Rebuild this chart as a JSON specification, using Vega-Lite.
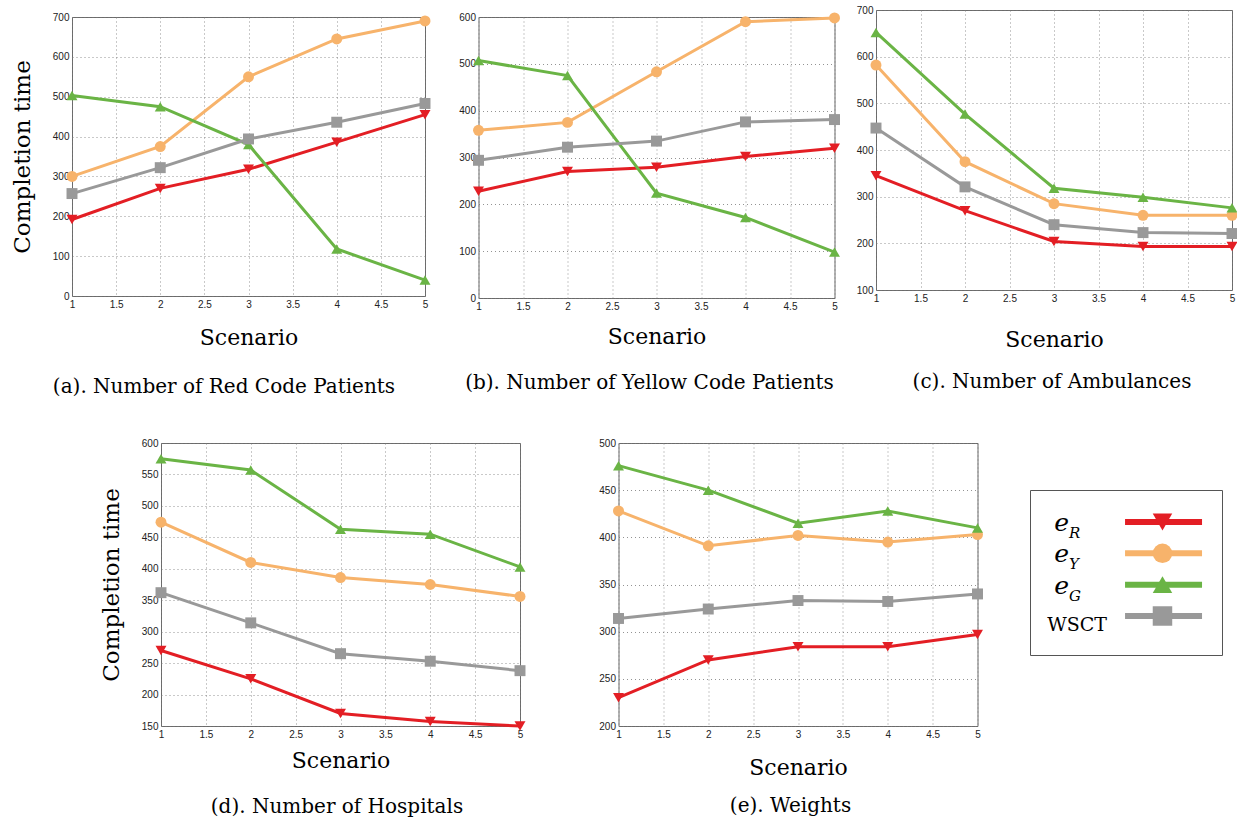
{
  "$schema": "https://vega.github.io/schema/vega-lite/v6.json",
  "padding": {"left": 10, "top": 4, "right": 0, "bottom": 0},
  "background": "white",
  "datasets": {
    "main": [
      {"panel": "a", "scenario": 1, "series": "eR", "value": 192},
      {"panel": "a", "scenario": 2, "series": "eR", "value": 270},
      {"panel": "a", "scenario": 3, "series": "eR", "value": 318},
      {"panel": "a", "scenario": 4, "series": "eR", "value": 386},
      {"panel": "a", "scenario": 5, "series": "eR", "value": 455},
      {"panel": "a", "scenario": 1, "series": "eY", "value": 300},
      {"panel": "a", "scenario": 2, "series": "eY", "value": 375},
      {"panel": "a", "scenario": 3, "series": "eY", "value": 550},
      {"panel": "a", "scenario": 4, "series": "eY", "value": 645},
      {"panel": "a", "scenario": 5, "series": "eY", "value": 690},
      {"panel": "a", "scenario": 1, "series": "eG", "value": 503},
      {"panel": "a", "scenario": 2, "series": "eG", "value": 475},
      {"panel": "a", "scenario": 3, "series": "eG", "value": 380},
      {"panel": "a", "scenario": 4, "series": "eG", "value": 118},
      {"panel": "a", "scenario": 5, "series": "eG", "value": 40},
      {"panel": "a", "scenario": 1, "series": "WSCT", "value": 257},
      {"panel": "a", "scenario": 2, "series": "WSCT", "value": 322},
      {"panel": "a", "scenario": 3, "series": "WSCT", "value": 394},
      {"panel": "a", "scenario": 4, "series": "WSCT", "value": 436},
      {"panel": "a", "scenario": 5, "series": "WSCT", "value": 483},
      {"panel": "b", "scenario": 1, "series": "eR", "value": 228},
      {"panel": "b", "scenario": 2, "series": "eR", "value": 270},
      {"panel": "b", "scenario": 3, "series": "eR", "value": 279},
      {"panel": "b", "scenario": 4, "series": "eR", "value": 302},
      {"panel": "b", "scenario": 5, "series": "eR", "value": 320},
      {"panel": "b", "scenario": 1, "series": "eY", "value": 358},
      {"panel": "b", "scenario": 2, "series": "eY", "value": 375},
      {"panel": "b", "scenario": 3, "series": "eY", "value": 483},
      {"panel": "b", "scenario": 4, "series": "eY", "value": 590},
      {"panel": "b", "scenario": 5, "series": "eY", "value": 598},
      {"panel": "b", "scenario": 1, "series": "eG", "value": 507},
      {"panel": "b", "scenario": 2, "series": "eG", "value": 475},
      {"panel": "b", "scenario": 3, "series": "eG", "value": 224},
      {"panel": "b", "scenario": 4, "series": "eG", "value": 172},
      {"panel": "b", "scenario": 5, "series": "eG", "value": 98},
      {"panel": "b", "scenario": 1, "series": "WSCT", "value": 294},
      {"panel": "b", "scenario": 2, "series": "WSCT", "value": 322},
      {"panel": "b", "scenario": 3, "series": "WSCT", "value": 335},
      {"panel": "b", "scenario": 4, "series": "WSCT", "value": 376},
      {"panel": "b", "scenario": 5, "series": "WSCT", "value": 381},
      {"panel": "c", "scenario": 1, "series": "eR", "value": 345},
      {"panel": "c", "scenario": 2, "series": "eR", "value": 270},
      {"panel": "c", "scenario": 3, "series": "eR", "value": 204},
      {"panel": "c", "scenario": 4, "series": "eR", "value": 193},
      {"panel": "c", "scenario": 5, "series": "eR", "value": 193},
      {"panel": "c", "scenario": 1, "series": "eY", "value": 582},
      {"panel": "c", "scenario": 2, "series": "eY", "value": 375},
      {"panel": "c", "scenario": 3, "series": "eY", "value": 285},
      {"panel": "c", "scenario": 4, "series": "eY", "value": 260},
      {"panel": "c", "scenario": 5, "series": "eY", "value": 260},
      {"panel": "c", "scenario": 1, "series": "eG", "value": 652},
      {"panel": "c", "scenario": 2, "series": "eG", "value": 477},
      {"panel": "c", "scenario": 3, "series": "eG", "value": 318},
      {"panel": "c", "scenario": 4, "series": "eG", "value": 299},
      {"panel": "c", "scenario": 5, "series": "eG", "value": 276},
      {"panel": "c", "scenario": 1, "series": "WSCT", "value": 447},
      {"panel": "c", "scenario": 2, "series": "WSCT", "value": 321},
      {"panel": "c", "scenario": 3, "series": "WSCT", "value": 240},
      {"panel": "c", "scenario": 4, "series": "WSCT", "value": 223},
      {"panel": "c", "scenario": 5, "series": "WSCT", "value": 221},
      {"panel": "d", "scenario": 1, "series": "eR", "value": 270},
      {"panel": "d", "scenario": 2, "series": "eR", "value": 225},
      {"panel": "d", "scenario": 3, "series": "eR", "value": 170},
      {"panel": "d", "scenario": 4, "series": "eR", "value": 157},
      {"panel": "d", "scenario": 5, "series": "eR", "value": 150},
      {"panel": "d", "scenario": 1, "series": "eY", "value": 474},
      {"panel": "d", "scenario": 2, "series": "eY", "value": 410},
      {"panel": "d", "scenario": 3, "series": "eY", "value": 386},
      {"panel": "d", "scenario": 4, "series": "eY", "value": 375},
      {"panel": "d", "scenario": 5, "series": "eY", "value": 356},
      {"panel": "d", "scenario": 1, "series": "eG", "value": 575},
      {"panel": "d", "scenario": 2, "series": "eG", "value": 557},
      {"panel": "d", "scenario": 3, "series": "eG", "value": 463},
      {"panel": "d", "scenario": 4, "series": "eG", "value": 455},
      {"panel": "d", "scenario": 5, "series": "eG", "value": 403},
      {"panel": "d", "scenario": 1, "series": "WSCT", "value": 362},
      {"panel": "d", "scenario": 2, "series": "WSCT", "value": 314},
      {"panel": "d", "scenario": 3, "series": "WSCT", "value": 265},
      {"panel": "d", "scenario": 4, "series": "WSCT", "value": 253},
      {"panel": "d", "scenario": 5, "series": "WSCT", "value": 238},
      {"panel": "e", "scenario": 1, "series": "eR", "value": 230},
      {"panel": "e", "scenario": 2, "series": "eR", "value": 270},
      {"panel": "e", "scenario": 3, "series": "eR", "value": 284},
      {"panel": "e", "scenario": 4, "series": "eR", "value": 284},
      {"panel": "e", "scenario": 5, "series": "eR", "value": 297},
      {"panel": "e", "scenario": 1, "series": "eY", "value": 428},
      {"panel": "e", "scenario": 2, "series": "eY", "value": 391},
      {"panel": "e", "scenario": 3, "series": "eY", "value": 402},
      {"panel": "e", "scenario": 4, "series": "eY", "value": 395},
      {"panel": "e", "scenario": 5, "series": "eY", "value": 403},
      {"panel": "e", "scenario": 1, "series": "eG", "value": 476},
      {"panel": "e", "scenario": 2, "series": "eG", "value": 450},
      {"panel": "e", "scenario": 3, "series": "eG", "value": 415},
      {"panel": "e", "scenario": 4, "series": "eG", "value": 428},
      {"panel": "e", "scenario": 5, "series": "eG", "value": 410},
      {"panel": "e", "scenario": 1, "series": "WSCT", "value": 314},
      {"panel": "e", "scenario": 2, "series": "WSCT", "value": 324},
      {"panel": "e", "scenario": 3, "series": "WSCT", "value": 333},
      {"panel": "e", "scenario": 4, "series": "WSCT", "value": 332},
      {"panel": "e", "scenario": 5, "series": "WSCT", "value": 340}
    ],
    "legend": [
      {"series": "eR", "main": "e", "sub": "R"},
      {"series": "eY", "main": "e", "sub": "Y"},
      {"series": "eG", "main": "e", "sub": "G"},
      {"series": "WSCT", "main": "WSCT", "sub": ""}
    ]
  },
  "vconcat": [
    {
      "hconcat": [
        {
          "vconcat": [
            {"width": 353, "height": 0.01, "data": {"values": []}, "mark": {"type": "point", "opacity": 0}, "view": {"stroke": null}},
            {
              "width": 353, "height": 279,
              "title": {"text": "(a). Number of Red Code Patients", "orient": "bottom", "offset": 28.6, "frame": "group", "dx": -24.5},
              "data": {"name": "main"},
              "transform": [{"filter": "datum.panel == 'a'"}],
              "encoding": {
                "x": {"field": "scenario", "type": "quantitative", "scale": {"domain": [1, 5], "nice": false, "zero": false}, "axis": {"title": "Scenario", "values": [1, 1.5, 2, 2.5, 3, 3.5, 4, 4.5, 5], "format": "~g", "titlePadding": 18}},
                "y": {"field": "value", "type": "quantitative", "scale": {"domain": [0, 700], "nice": false, "zero": false}, "axis": {"title": "Completion time", "values": [0, 100, 200, 300, 400, 500, 600, 700], "titlePadding": 18}},
                "color": {"field": "series", "type": "nominal", "scale": {"domain": ["eR", "eY", "eG", "WSCT"], "range": ["#E31E24", "#F7B36B", "#6AB445", "#999999"]}, "legend": null}
              },
              "layer": [
                {"mark": {"type": "line", "strokeWidth": 3}},
                {"mark": {"type": "point", "filled": true, "size": 120, "opacity": 1}, "encoding": {"shape": {"field": "series", "type": "nominal", "scale": {"domain": ["eR", "eY", "eG", "WSCT"], "range": ["triangle-down", "circle", "triangle-up", "square"]}, "legend": null}}}
              ]
            }
          ],
          "spacing": 0
        },
        {
          "hconcat": [
            {
              "vconcat": [
                {"width": 356, "height": 0.01, "data": {"values": []}, "mark": {"type": "point", "opacity": 0}, "view": {"stroke": null}},
                {
                  "width": 356, "height": 281,
                  "title": {"text": "(b). Number of Yellow Code Patients", "orient": "bottom", "offset": 25.6, "frame": "group", "dx": -7},
                  "data": {"name": "main"},
                  "transform": [{"filter": "datum.panel == 'b'"}],
                  "encoding": {
                    "x": {"field": "scenario", "type": "quantitative", "scale": {"domain": [1, 5], "nice": false, "zero": false}, "axis": {"title": "Scenario", "values": [1, 1.5, 2, 2.5, 3, 3.5, 4, 4.5, 5], "format": "~g", "titlePadding": 15}},
                    "y": {"field": "value", "type": "quantitative", "scale": {"domain": [0, 600], "nice": false, "zero": false}, "axis": {"title": null, "values": [0, 100, 200, 300, 400, 500, 600]}},
                    "color": {"field": "series", "type": "nominal", "scale": {"domain": ["eR", "eY", "eG", "WSCT"], "range": ["#E31E24", "#F7B36B", "#6AB445", "#999999"]}, "legend": null}
                  },
                  "layer": [
                    {"mark": {"type": "line", "strokeWidth": 3}},
                    {"mark": {"type": "point", "filled": true, "size": 120, "opacity": 1}, "encoding": {"shape": {"field": "series", "type": "nominal", "scale": {"domain": ["eR", "eY", "eG", "WSCT"], "range": ["triangle-down", "circle", "triangle-up", "square"]}, "legend": null}}}
                  ]
                }
              ],
              "spacing": 0
            },
            {
              "width": 356, "height": 280,
              "title": {"text": "(c). Number of Ambulances", "orient": "bottom", "offset": 21.6, "frame": "group", "dx": -2},
              "data": {"name": "main"},
              "transform": [{"filter": "datum.panel == 'c'"}],
              "encoding": {
                "x": {"field": "scenario", "type": "quantitative", "scale": {"domain": [1, 5], "nice": false, "zero": false}, "axis": {"title": "Scenario", "values": [1, 1.5, 2, 2.5, 3, 3.5, 4, 4.5, 5], "format": "~g", "titlePadding": 26}},
                "y": {"field": "value", "type": "quantitative", "scale": {"domain": [100, 700], "nice": false, "zero": false}, "axis": {"title": null, "values": [100, 200, 300, 400, 500, 600, 700]}},
                "color": {"field": "series", "type": "nominal", "scale": {"domain": ["eR", "eY", "eG", "WSCT"], "range": ["#E31E24", "#F7B36B", "#6AB445", "#999999"]}, "legend": null}
              },
              "layer": [
                {"mark": {"type": "line", "strokeWidth": 3}},
                {"mark": {"type": "point", "filled": true, "size": 120, "opacity": 1}, "encoding": {"shape": {"field": "series", "type": "nominal", "scale": {"domain": ["eR", "eY", "eG", "WSCT"], "range": ["triangle-down", "circle", "triangle-up", "square"]}, "legend": null}}}
              ]
            }
          ],
          "spacing": 13.5
        }
      ],
      "spacing": 25.5
    },
    {
      "hconcat": [
        {"width": 27, "height": 1, "data": {"values": []}, "mark": {"type": "point", "opacity": 0}, "view": {"stroke": null}},
        {
          "hconcat": [
            {
              "hconcat": [
                {
                  "width": 359, "height": 283,
                  "title": {"text": "(d). Number of Hospitals", "orient": "bottom", "offset": 25.6, "frame": "group", "dx": -3.5},
                  "data": {"name": "main"},
                  "transform": [{"filter": "datum.panel == 'd'"}],
                  "encoding": {
                    "x": {"field": "scenario", "type": "quantitative", "scale": {"domain": [1, 5], "nice": false, "zero": false}, "axis": {"title": "Scenario", "values": [1, 1.5, 2, 2.5, 3, 3.5, 4, 4.5, 5], "format": "~g", "titlePadding": 11.5}},
                    "y": {"field": "value", "type": "quantitative", "scale": {"domain": [150, 600], "nice": false, "zero": false}, "axis": {"title": "Completion time", "values": [150, 200, 250, 300, 350, 400, 450, 500, 550, 600], "titlePadding": 18}},
                    "color": {"field": "series", "type": "nominal", "scale": {"domain": ["eR", "eY", "eG", "WSCT"], "range": ["#E31E24", "#F7B36B", "#6AB445", "#999999"]}, "legend": null}
                  },
                  "layer": [
                    {"mark": {"type": "line", "strokeWidth": 3}},
                    {"mark": {"type": "point", "filled": true, "size": 120, "opacity": 1}, "encoding": {"shape": {"field": "series", "type": "nominal", "scale": {"domain": ["eR", "eY", "eG", "WSCT"], "range": ["triangle-down", "circle", "triangle-up", "square"]}, "legend": null}}}
                  ]
                },
                {
                  "width": 359, "height": 283,
                  "title": {"text": "(e). Weights", "orient": "bottom", "offset": 17.6, "frame": "group", "dx": -7.5},
                  "data": {"name": "main"},
                  "transform": [{"filter": "datum.panel == 'e'"}],
                  "encoding": {
                    "x": {"field": "scenario", "type": "quantitative", "scale": {"domain": [1, 5], "nice": false, "zero": false}, "axis": {"title": "Scenario", "values": [1, 1.5, 2, 2.5, 3, 3.5, 4, 4.5, 5], "format": "~g", "titlePadding": 18.6}},
                    "y": {"field": "value", "type": "quantitative", "scale": {"domain": [200, 500], "nice": false, "zero": false}, "axis": {"title": null, "values": [200, 250, 300, 350, 400, 450, 500]}},
                    "color": {"field": "series", "type": "nominal", "scale": {"domain": ["eR", "eY", "eG", "WSCT"], "range": ["#E31E24", "#F7B36B", "#6AB445", "#999999"]}, "legend": null}
                  },
                  "layer": [
                    {"mark": {"type": "line", "strokeWidth": 3}},
                    {"mark": {"type": "point", "filled": true, "size": 120, "opacity": 1}, "encoding": {"shape": {"field": "series", "type": "nominal", "scale": {"domain": ["eR", "eY", "eG", "WSCT"], "range": ["triangle-down", "circle", "triangle-up", "square"]}, "legend": null}}}
                  ]
                }
              ],
              "spacing": 70.5
            },
            {
              "vconcat": [
                {"width": 192, "height": 46, "data": {"values": []}, "mark": {"type": "point", "opacity": 0}, "view": {"stroke": null}},
                {
                  "width": 192, "height": 165,
                  "view": {"stroke": "#555555", "strokeWidth": 1},
                  "data": {"name": "legend"},
                  "encoding": {
                    "y": {"field": "series", "type": "nominal", "scale": {"type": "point", "domain": ["eR", "eY", "eG", "WSCT"], "range": [32, 126], "padding": 0}, "axis": null}
                  },
                  "layer": [
                    {
                      "mark": {"type": "rule", "strokeWidth": 6},
                      "encoding": {
                        "x": {"datum": 49.5, "type": "quantitative", "scale": {"domain": [0, 100]}, "axis": null},
                        "x2": {"datum": 89.6},
                        "color": {"field": "series", "type": "nominal", "scale": {"domain": ["eR", "eY", "eG", "WSCT"], "range": ["#E31E24", "#F7B36B", "#6AB445", "#999999"]}, "legend": null}
                      }
                    },
                    {
                      "mark": {"type": "point", "filled": true, "size": 380, "opacity": 1},
                      "encoding": {
                        "x": {"datum": 69, "type": "quantitative"},
                        "color": {"field": "series", "type": "nominal", "legend": null},
                        "shape": {"field": "series", "type": "nominal", "scale": {"domain": ["eR", "eY", "eG", "WSCT"], "range": ["triangle-down", "circle", "triangle-up", "square"]}, "legend": null}
                      }
                    },
                    {
                      "transform": [{"filter": "datum.series != 'WSCT'"}],
                      "mark": {"type": "text", "font": "DejaVu Serif", "fontStyle": "italic", "fontSize": 25, "align": "center", "baseline": "middle", "dy": 1, "color": "#000"},
                      "encoding": {
                        "x": {"datum": 16.5, "type": "quantitative"},
                        "text": {"field": "main"}
                      }
                    },
                    {
                      "transform": [{"filter": "datum.series != 'WSCT'"}],
                      "mark": {"type": "text", "font": "DejaVu Serif", "fontStyle": "italic", "fontSize": 15, "align": "left", "baseline": "middle", "dy": 11, "color": "#000"},
                      "encoding": {
                        "x": {"datum": 20.3, "type": "quantitative"},
                        "text": {"field": "sub"}
                      }
                    },
                    {
                      "transform": [{"filter": "datum.series == 'WSCT'"}],
                      "mark": {"type": "text", "font": "DejaVu Serif", "fontSize": 19, "align": "center", "baseline": "middle", "dy": 9, "color": "#000"},
                      "encoding": {
                        "x": {"datum": 24.5, "type": "quantitative"},
                        "text": {"field": "main"}
                      }
                    }
                  ]
                }
              ],
              "spacing": 0
            }
          ],
          "spacing": 45
        }
      ],
      "spacing": 0
    }
  ],
  "spacing": 39,
  "config": {
    "view": {"stroke": "#6a6a6a", "strokeWidth": 1},
    "axis": {
      "grid": true, "gridDash": [1, 3], "gridColor": "#777777", "gridWidth": 0.8,
      "domain": false, "ticks": false,
      "labelFont": "Liberation Sans", "labelFontSize": 10, "labelColor": "#222222", "labelPadding": 3, "labelFlush": false,
      "titleFont": "DejaVu Serif", "titleFontWeight": "normal", "titleColor": "#000000"
    },
    "axisX": {"titleFontSize": 22},
    "axisY": {"titleFontSize": 23},
    "title": {"font": "DejaVu Serif", "fontSize": 20, "fontWeight": "normal", "color": "#000000"}
  }
}
